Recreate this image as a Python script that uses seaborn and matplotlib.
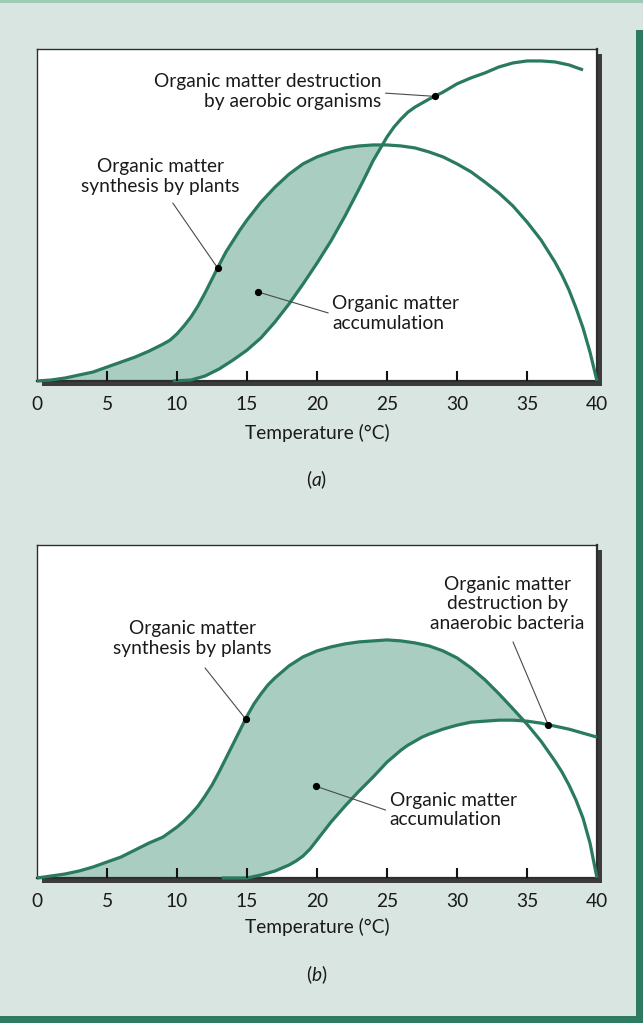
import numpy as np
import pandas as pd
import matplotlib
matplotlib.use("Agg")
import matplotlib.pyplot as plt
from matplotlib.patches import Rectangle
import seaborn as sns

# ---- data: relative rates (0-100 scale) against temperature (°C) ----
# (a) aerobic conditions
temp_syn_a = [0, 1, 2, 3, 4, 5, 6, 7, 8, 9, 9.5, 10, 10.5, 11, 11.5, 12, 12.5, 13, 13.5,
              14, 14.5, 15, 16, 17, 18, 19, 20, 21, 22, 23, 24, 25, 26, 27, 28, 29, 30,
              31, 32, 33, 34, 35, 36, 37, 37.5, 38, 38.5, 39, 39.5, 40]
synthesis_a = [0, 0.3, 0.9, 1.8, 2.7, 4.2, 5.7, 7.2, 9.0, 11.1, 12.3, 14.2, 16.6, 19.3,
               22.6, 26.5, 30.7, 34.9, 38.9, 42.2, 45.5, 48.5, 53.9, 58.4, 62.3, 65.4,
               67.5, 69.0, 70.2, 70.8, 71.1, 71.1, 70.8, 70.2, 69.0, 67.5, 65.4, 63.0,
               59.9, 56.6, 52.7, 47.9, 42.5, 35.8, 31.9, 27.4, 22.0, 16.0, 8.7, 0]
temp_des_a = [9.7, 11, 12, 13, 14, 15, 16, 17, 18, 19, 20, 21, 22, 23, 23.5, 24, 24.5,
              25, 25.5, 26, 26.5, 27, 27.5, 28, 29, 30, 31, 32, 33, 34, 35, 36, 37, 38,
              39]
destruction_a = [0, 0.3, 1.5, 3.6, 6.3, 9.3, 13.0, 17.8, 23.2, 29.2, 35.5, 42.2, 49.7,
                 57.8, 62.0, 66.3, 69.9, 73.5, 76.5, 78.9, 81.0, 82.5, 83.7, 84.9, 87.0,
                 89.5, 91.3, 92.8, 94.6, 95.8, 96.4, 96.4, 96.1, 95.2, 93.7]

# (b) anaerobic conditions
temp_syn_b = [0, 1, 2, 3, 4, 5, 6, 7, 8, 9, 9.5, 10, 10.5, 11, 11.5, 12, 12.5, 13, 13.5,
              14, 14.5, 15, 15.5, 16, 16.5, 17, 17.5, 18, 19, 20, 21, 22, 23, 24, 25,
              26, 27, 28, 29, 30, 31, 32, 33, 34, 35, 36, 37, 37.5, 38, 38.5, 39, 39.5,
              40]
synthesis_b = [0, 0.6, 1.2, 2.1, 3.3, 4.8, 6.3, 8.4, 10.5, 12.3, 13.8, 15.3, 17.1, 19.2,
               21.6, 24.6, 27.9, 31.8, 36.0, 40.2, 44.4, 48.6, 52.3, 55.3, 58.0, 60.1,
               61.9, 63.7, 66.4, 68.2, 69.4, 70.3, 70.9, 71.2, 71.5, 71.2, 70.6, 69.7,
               68.2, 66.1, 63.1, 59.5, 55.3, 50.8, 46.2, 41.1, 35.1, 31.8, 27.9, 23.4,
               18.0, 10.5, 0]
temp_des_b = [13.2, 15, 16, 17, 18, 18.5, 19, 19.5, 20, 20.5, 21, 21.5, 22, 23, 24, 25,
              25.5, 26, 26.5, 27, 27.5, 28, 29, 30, 31, 32, 33, 34, 35, 36, 37, 38, 39,
              40]
destruction_b = [0, 0, 0.9, 2.1, 3.9, 5.1, 6.6, 8.7, 11.4, 14.1, 16.8, 19.2, 21.6, 26.1,
                 30.3, 34.8, 36.6, 38.4, 39.9, 41.1, 42.3, 43.2, 44.7, 45.9, 46.8, 47.1,
                 47.4, 47.4, 47.1, 46.5, 45.6, 44.7, 43.5, 42.3]

tick_values = [0, 5, 10, 15, 20, 25, 30, 35, 40]
x_label = "Temperature (°C)"

# ---- style ----
sns.set_theme(style="white")
plt.rcParams["font.family"] = ["Lato", "DejaVu Sans"]
plt.rcParams["mathtext.fontset"] = "custom"
plt.rcParams["mathtext.rm"] = "Lato"
plt.rcParams["mathtext.it"] = "Lato:italic"

BG = "#d9e5e1"
LINE = "#2a7a5f"
FILL = "#a9cdc1"
FRAME = "#2e2e2e"
SHADOW = "#3c3c3c"
TXT = "#1a1a1a"
FS = 13.8
LS = 1.2

W, H = 643, 1023
fig = plt.figure(figsize=(W / 100, H / 100), dpi=100, facecolor=BG)


def fig_box(left, top, right, bottom):
    return [left / W, 1 - bottom / H, (right - left) / W, (bottom - top) / H]


ax_a = fig.add_axes(fig_box(37, 49, 597, 381))
ax_b = fig.add_axes(fig_box(37, 545, 597, 878))


def draw_panel(ax, t_syn, syn, t_des, des):
    grid = np.linspace(0, 40, 1601)
    s = np.interp(grid, t_syn, syn)
    d = np.interp(grid, t_des, des, left=0.0)
    ax.fill_between(grid, s, d, where=s >= d, interpolate=True,
                    color=FILL, linewidth=0, zorder=1)
    df_s = pd.DataFrame({"temperature": t_syn, "rate": syn})
    df_d = pd.DataFrame({"temperature": t_des, "rate": des})
    for df in (df_s, df_d):
        sns.lineplot(data=df, x="temperature", y="rate", ax=ax, color=LINE,
                     linewidth=2.3, estimator=None, sort=False, zorder=3,
                     clip_on=False, solid_joinstyle="round", solid_capstyle="butt")
    ax.set_xlim(0, 40)
    ax.set_ylim(0, 100)
    ax.set_yticks([])
    ax.set_xticks(tick_values)
    ax.set_xticklabels([str(v) for v in tick_values])
    ax.tick_params(axis="x", which="major", length=0, pad=11, labelsize=FS,
                   labelcolor=TXT)
    # short inward tick marks at the inner tick positions
    xt = ax.get_xaxis_transform()
    for tv in tick_values[1:-1]:
        ax.plot([tv, tv], [0.0, 0.03], transform=xt, color="#111111", lw=1.5,
                solid_capstyle="butt", zorder=6, clip_on=False)
    ax.set_xlabel("")
    ax.set_ylabel("")
    ax.set_facecolor("white")
    for side in ("left", "top", "right", "bottom"):
        ax.spines[side].set_visible(True)
        ax.spines[side].set_color(FRAME)
        ax.spines[side].set_linewidth(1.0)
    ax.spines["bottom"].set_linewidth(1.6)
    ax.spines["right"].set_linewidth(1.6)
    # drop shadow behind the frame
    pos = ax.get_position()
    fig.add_artist(Rectangle((pos.x0 + 5 / W, pos.y0 - 5 / H), pos.width, pos.height,
                             transform=fig.transFigure, facecolor=SHADOW,
                             edgecolor="none", zorder=-1))


def pointer(ax, text_xy, t_curve, temps, rates):
    y = np.interp(t_curve, temps, rates)
    ax.plot([text_xy[0], t_curve], [text_xy[1], y], color="#4a4a4a", lw=0.8, zorder=4)
    ax.plot([t_curve], [y], "o", color="black", ms=4.2, zorder=5)


def dot_pointer(ax, dot_xy, end_xy):
    ax.plot([dot_xy[0], end_xy[0]], [dot_xy[1], end_xy[1]], color="#4a4a4a",
            lw=0.8, zorder=4)
    ax.plot([dot_xy[0]], [dot_xy[1]], "o", color="black", ms=4.2, zorder=5)


def label(ax, x, y, s, ha):
    ax.text(x, y, s, ha=ha, va="center", multialignment=ha, fontsize=FS, color=TXT,
            linespacing=LS, zorder=6)


# ---- panel (a) ----
draw_panel(ax_a, temp_syn_a, synthesis_a, temp_des_a, destruction_a)
label(ax_a, 24.6, 87.2, "Organic matter destruction\nby aerobic organisms", "right")
pointer(ax_a, (24.9, 86.7), 28.4, temp_des_a, destruction_a)
label(ax_a, 8.8, 61.6, "Organic matter\nsynthesis by plants", "center")
pointer(ax_a, (9.7, 53.6), 12.9, temp_syn_a, synthesis_a)
label(ax_a, 21.1, 20.3, "Organic matter\naccumulation", "left")
dot_pointer(ax_a, (15.8, 26.8), (20.8, 20.5))
ax_a.text(0.5, -0.157, x_label, transform=ax_a.transAxes, ha="center", va="center",
          fontsize=FS, color=TXT)
ax_a.text(0.5, -0.298, r"($\it{a}$)", transform=ax_a.transAxes, ha="center",
          va="center", fontsize=FS, color=TXT)

# ---- panel (b) ----
draw_panel(ax_b, temp_syn_b, synthesis_b, temp_des_b, destruction_b)
label(ax_b, 11.1, 71.9, "Organic matter\nsynthesis by plants", "center")
pointer(ax_b, (12.0, 63.1), 14.9, temp_syn_b, synthesis_b)
label(ax_b, 33.6, 82.3, "Organic matter\ndestruction by\nanaerobic bacteria", "center")
pointer(ax_b, (34.0, 70.9), 36.5, temp_des_b, destruction_b)
label(ax_b, 25.2, 20.4, "Organic matter\naccumulation", "left")
dot_pointer(ax_b, (19.9, 27.6), (24.9, 20.4))
ax_b.text(0.5, -0.147, x_label, transform=ax_b.transAxes, ha="center", va="center",
          fontsize=FS, color=TXT)
ax_b.text(0.5, -0.291, r"($\it{b}$)", transform=ax_b.transAxes, ha="center",
          va="center", fontsize=FS, color=TXT)

# ---- page edges ----
fig.add_artist(Rectangle((0, 1 - 3 / H), 1, 3 / H, transform=fig.transFigure,
                         facecolor="#9fcbb3", edgecolor="none", zorder=-2))
fig.add_artist(Rectangle((636 / W, 0), 7 / W, 1 - 30 / H, transform=fig.transFigure,
                         facecolor="#2e7b62", edgecolor="none", zorder=-2))
fig.add_artist(Rectangle((0, 0), 1, 7 / H, transform=fig.transFigure,
                         facecolor="#2e7b62", edgecolor="none", zorder=-2))

fig.savefig("out.png", dpi=100, facecolor=BG)
